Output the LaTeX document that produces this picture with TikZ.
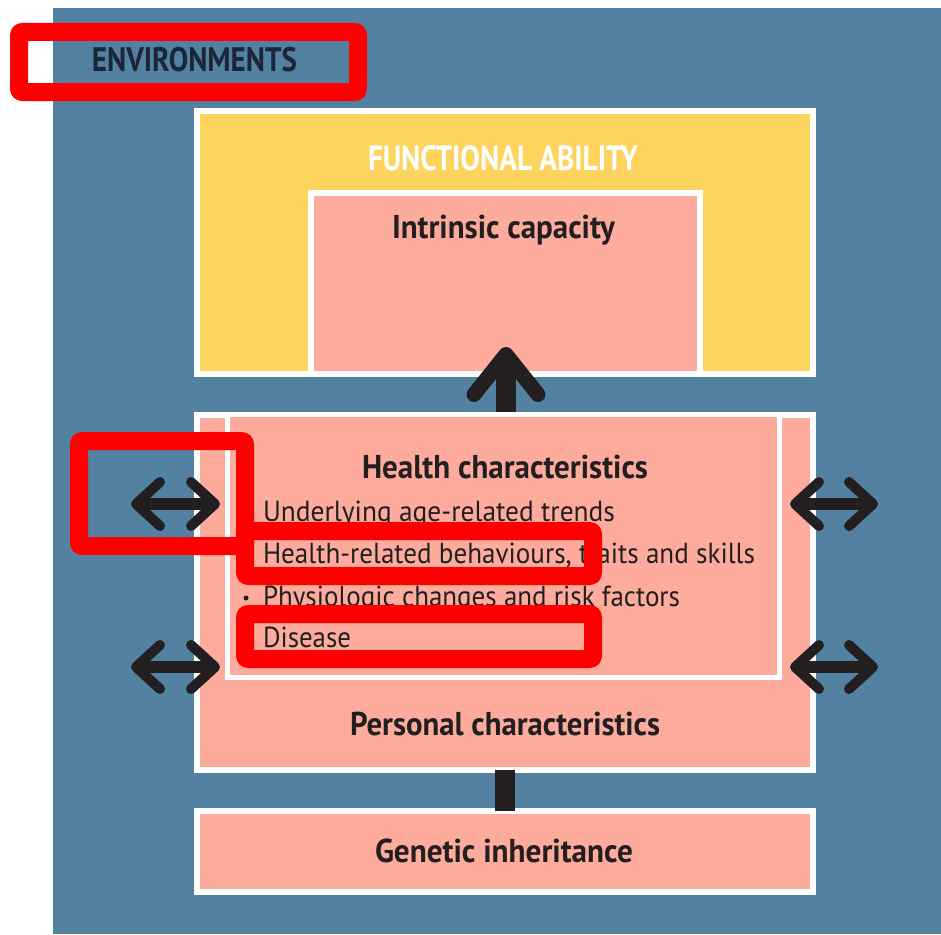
\documentclass[tikz,border=0pt]{standalone}
\usepackage{fontspec}
\usepackage{graphicx}
\setmainfont{PT Sans}
\usetikzlibrary{arrows.meta}

\definecolor{envblue}{HTML}{5281A1}
\definecolor{abilyellow}{HTML}{FDD45E}
\definecolor{capink}{HTML}{FCAB9D}
\definecolor{ink}{HTML}{231F20}
\definecolor{navyink}{HTML}{1B2638}
\definecolor{markred}{HTML}{FF0000}

% squeeze a label to a given width, keeping its height
\newcommand{\fitto}[2]{\resizebox{#1}{\height}{#2}}

\begin{document}
\begin{tikzpicture}[x=1pt, y=-1pt,
  panel/.style={rectangle, draw=white, inner sep=0pt, outer sep=0pt},
  head/.style={inner sep=0pt, outer sep=0pt, anchor=base, text=ink,
    font=\bfseries\fontsize{33}{36}\selectfont},
  item/.style={inner sep=0pt, outer sep=0pt, anchor=base west, text=ink,
    font=\fontsize{29}{32}\selectfont},
  dot/.style={circle, fill=ink, inner sep=0pt, minimum size=5pt},
  twoway/.style={line width=12pt, draw=ink,
    {Straight Barb[length=24pt, width=44pt, line width=10pt, round]}-{Straight Barb[length=24pt, width=44pt, line width=10pt, round]}},
  upward/.style={line width=20pt, draw=ink,
    -{Straight Barb[length=40pt, width=64pt, line width=15pt, round]}},
  markbox/.style={draw=markred, line width=18pt, rounded corners=3pt, line join=round}
]
\useasboundingbox (0,0) rectangle (941,934);

% environment backdrop
\fill[envblue] (53,8) rectangle (941,934);
\node[inner sep=0pt, anchor=base, text=navyink,
  font=\bfseries\fontsize{34}{38}\selectfont] (env) at (194.5,72) {\fitto{205pt}{ENVIRONMENTS}};

% functional ability with intrinsic capacity inside
\node[panel, line width=6pt, fill=abilyellow, minimum width=616pt, minimum height=263pt] (fa) at (505,242.5) {};
\node[panel, line width=6pt, fill=capink, minimum width=389pt, minimum height=181pt] (ic) at (505.5,283.5) {};
\node[head, text=white, font=\bfseries\fontsize{35}{38}\selectfont] (fatext) at (503,170) {\fitto{270pt}{FUNCTIONAL ABILITY}};
\node[head] (ictext) at (503.5,238) {\fitto{223pt}{Intrinsic capacity}};

% personal characteristics with health characteristics inside
\node[panel, line width=6pt, fill=capink, minimum width=616pt, minimum height=355pt] (pc) at (505,592.5) {};
\node[panel, line width=5pt, fill=capink, minimum width=552pt, minimum height=263pt] (hc) at (503.5,546) {};
\node[head] (hctext) at (505,478) {\fitto{286pt}{Health characteristics}};
\node[item] (i1) at (263,521) {\fitto{352pt}{Underlying age-related trends}};
\node[item] (i2) at (263,563) {\fitto{492pt}{Health-related behaviours, traits and skills}};
\node[item] (i3) at (263,606) {\fitto{417pt}{Physiologic changes and risk factors}};
\node[item] (i4) at (263,647) {\fitto{88pt}{Disease}};
\node[dot] (b1) at (246,513) {};
\node[dot] (b2) at (246,555) {};
\node[dot] (b3) at (246,598) {};
\node[dot] (b4) at (246,639) {};
\node[head] (pctext) at (505,735) {\fitto{310pt}{Personal characteristics}};

% genetic inheritance
\node[panel, line width=6pt, fill=capink, minimum width=616pt, minimum height=81pt] (gi) at (505,851.5) {};
\node[head] (gitext) at (504,862) {\fitto{258pt}{Genetic inheritance}};

% connectors
\coordinate (upfoot) at (506,412);
\coordinate (uptip) at (506,347);
\draw[upward] (upfoot) -- (uptip);
\draw[line width=20pt, draw=ink] (pc.south) -- (gi.north);

\coordinate (wl1) at (131,504);
\coordinate (el1) at (220,504);
\coordinate (wl2) at (131,667);
\coordinate (el2) at (220,667);
\coordinate (wr1) at (790,504);
\coordinate (er1) at (878,504);
\coordinate (wr2) at (790,667);
\coordinate (er2) at (878,667);
\draw[twoway] (wl1) -- (el1);
\draw[twoway] (wl2) -- (el2);
\draw[twoway] (wr1) -- (er1);
\draw[twoway] (wr2) -- (er2);

% red highlight frames
\draw[markbox] (19,32) rectangle (358,92);
\draw[markbox] (79,441) rectangle (245,546);
\draw[markbox] (245,531) rectangle (593,576);
\draw[markbox] (245,614) rectangle (593,659);
\end{tikzpicture}
\end{document}
